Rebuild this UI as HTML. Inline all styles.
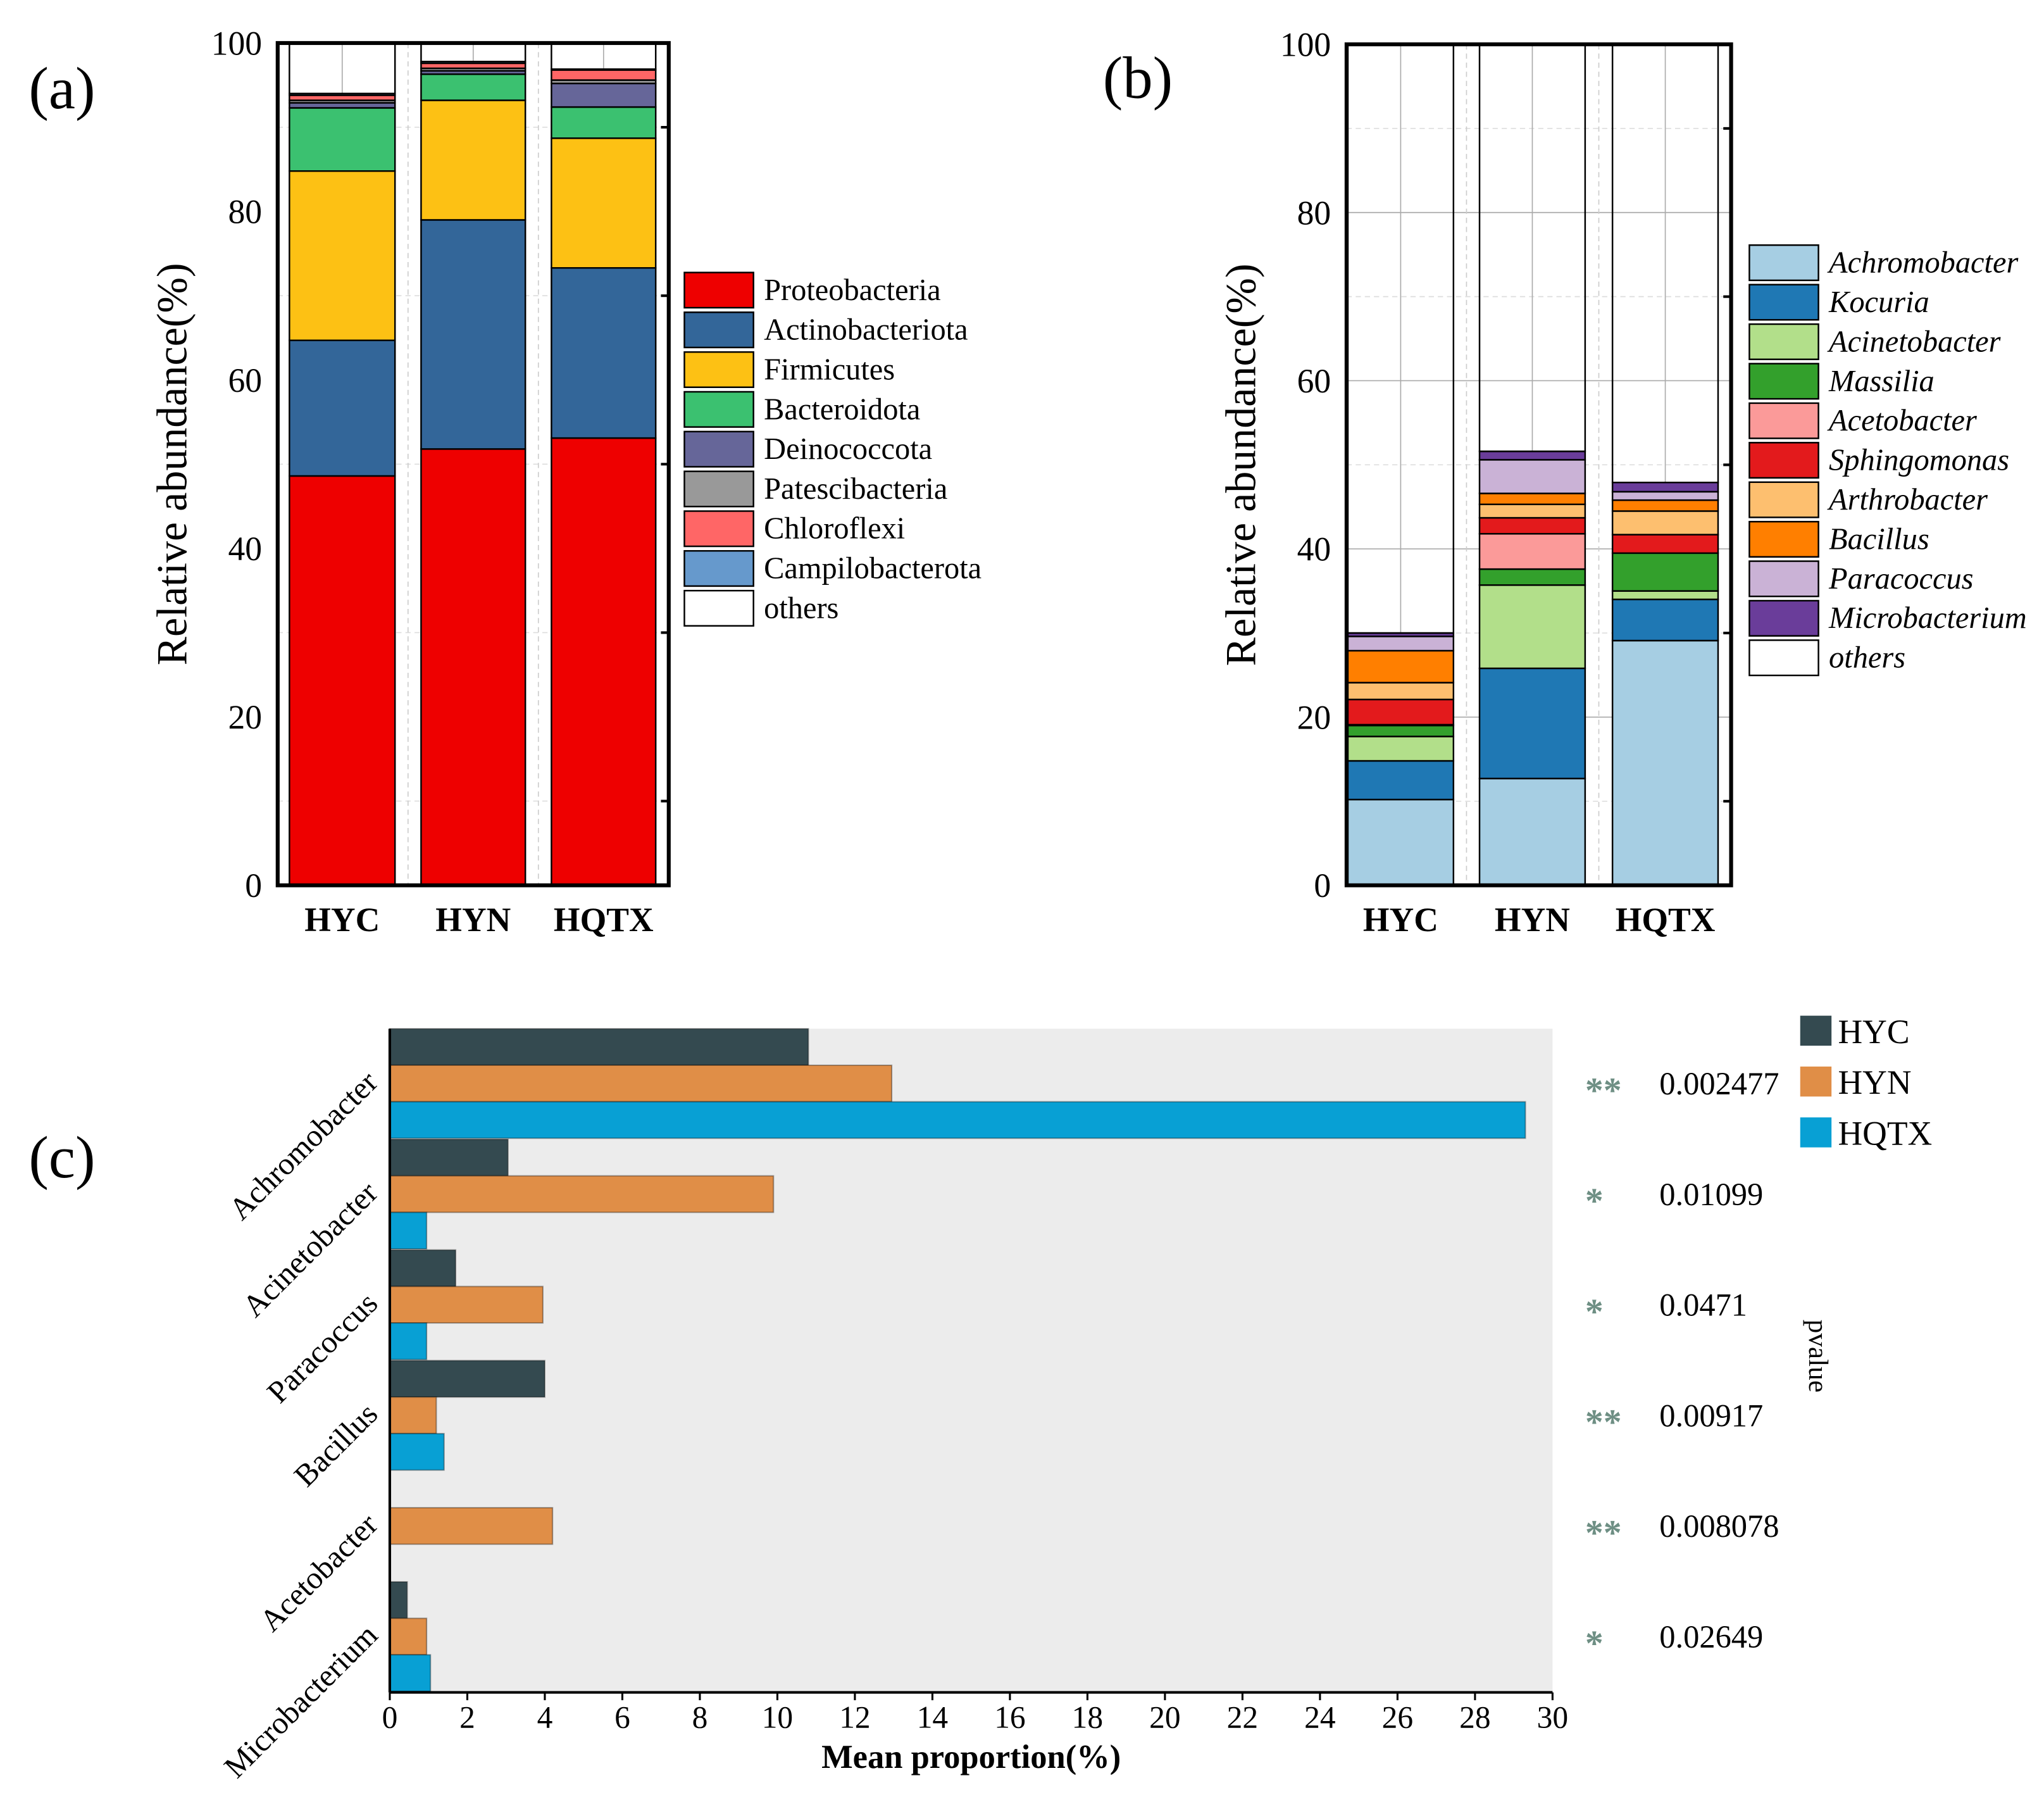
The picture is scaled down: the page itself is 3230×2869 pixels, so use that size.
<!DOCTYPE html>
<html><head><meta charset="utf-8"><style>
html,body{margin:0;padding:0;background:#fff}
svg{display:block;font-family:"Liberation Serif",serif}
</style></head><body>
<svg id="fig" xmlns="http://www.w3.org/2000/svg" width="3230" height="2869" viewBox="0 0 1568 1392.8">
<rect width="1568" height="1393" fill="#fff"/>
<text x="22" y="83" font-size="46">(a)</text>
<text x="846" y="75" font-size="46">(b)</text>
<text x="22" y="903" font-size="46">(c)</text>
<g id="pa"></g>
<g id="pb"></g>
<g id="pc"></g>
</svg>
<script>
const samples = ["HYC","HYN","HQTX"];
const phyla = ["Proteobacteria","Actinobacteriota","Firmicutes","Bacteroidota","Deinococcota","Patescibacteria","Chloroflexi","Campilobacterota","others"];
const phylaColors = ["#ee0000","#336699","#fdc114","#3bc170","#666699","#999999","#ff6666","#6699cc","#ffffff"];
const phylaHYC = [48.6,16.1,20.1,7.5,0.6,0.3,0.6,0.2];
const phylaHYN = [51.8,27.2,14.2,3.1,0.4,0.3,0.6,0.2];
const phylaHQTX = [53.1,20.2,15.4,3.7,2.8,0.4,1.2,0.1];
const genera = ["Achromobacter","Kocuria","Acinetobacter","Massilia","Acetobacter","Sphingomonas","Arthrobacter","Bacillus","Paracoccus","Microbacterium","others"];
const generaColors = ["#a6cee3","#1f78b4","#b2df8a","#33a02c","#fb9a99","#e31a1c","#fdbf6f","#ff7f00","#cab2d6","#6a3d9a","#ffffff"];
const genusHYC = [10.2,4.6,2.9,1.3,0.1,3.0,2.0,3.8,1.7,0.4];
const genusHYN = [12.7,13.1,9.9,1.9,4.2,1.9,1.6,1.3,4.0,1.0];
const genusHQTX = [29.1,4.9,1.0,4.5,0.0,2.2,2.8,1.3,1.0,1.1];
const yTicks = [0,20,40,60,80,100];
const cTaxa = ["Achromobacter","Acinetobacter","Paracoccus","Bacillus","Acetobacter","Microbacterium"];
const cHYC = [10.8,3.05,1.7,4.0,0,0.45];
const cHYN = [12.95,9.9,3.95,1.2,4.2,0.95];
const cHQTX = [29.3,0.95,0.95,1.4,0,1.05];
const cStars = ["**","*","*","**","**","*"];
const cPvals = ["0.002477","0.01099","0.0471","0.00917","0.008078","0.02649"];
const cXTicks = [0,2,4,6,8,10,12,14,16,18,20,22,24,26,28,30];
const cColors = ["#344a50","#e08e47","#08a0d4"];

const NS="http://www.w3.org/2000/svg";
function mk(parent,tag,attrs,text){const e=document.createElementNS(NS,tag);for(const k in attrs)e.setAttribute(k,attrs[k]);if(text!==undefined)e.textContent=text;parent.appendChild(e);return e;}

function stacked(g,cfg){
  const {L,R,T,B,bars,data,names,colors,italic,legX,legY,legStep,gridMajor,legFont}=cfg;
  const y=v=>B-(B-T)*v/100;
  for(let v=10;v<100;v+=20){mk(g,'line',{x1:L,x2:R,y1:y(v),y2:y(v),stroke:'#ddd','stroke-dasharray':'4,3','stroke-width':0.8});}
  if(gridMajor) for(let v=20;v<100;v+=20){mk(g,'line',{x1:L,x2:R,y1:y(v),y2:y(v),stroke:'#aaa','stroke-width':0.8});}
  bars.forEach((b,i)=>{const c=(b[0]+b[1])/2;mk(g,'line',{x1:c,x2:c,y1:T,y2:B,stroke:'#aaa','stroke-width':0.8});
    if(i<bars.length-1){const m=(b[1]+bars[i+1][0])/2;mk(g,'line',{x1:m,x2:m,y1:T,y2:B,stroke:'#ccc','stroke-dasharray':'4,3','stroke-width':0.8});}});
  data.forEach((arr,i)=>{
    let acc=0;const [x0,x1]=bars[i];
    arr.forEach((v,j)=>{
      const r=mk(g,'rect',{x:x0,y:y(acc+v),width:x1-x0,height:Math.max(0,y(acc)-y(acc+v)),fill:colors[j],stroke:'#000','stroke-width':1.2});
      
      
      acc+=v;});
    const r=mk(g,'rect',{x:x0,y:T,width:x1-x0,height:y(acc)-T,fill:'none',stroke:'#000','stroke-width':1.2});
    
    
    const t=mk(g,'text',{x:(x0+x1)/2,y:B+35,'font-size':26,'font-weight':'bold','text-anchor':'middle'},samples[i]);
    
    
  });
  mk(g,'rect',{x:L,y:T,width:R-L,height:B-T,fill:'none',stroke:'#000','stroke-width':3});
  yTicks.forEach(v=>{const t=mk(g,'text',{x:L-12,y:y(v)+9,'font-size':26,'text-anchor':'end'},v);
    
    
    mk(g,'line',{x1:R,x2:R-6,y1:y(v+10),y2:y(v+10),stroke:'#000','stroke-width':2});});
  const yl=mk(g,'text',{x:0,y:0,'font-size':33,'text-anchor':'middle',transform:`translate(${L-70},${(T+B)/2}) rotate(-90)`},'Relative abundance(%)');
  
  
  names.forEach((n,j)=>{
    const yy=legY+j*legStep;
    const r=mk(g,'rect',{x:legX,y:yy-13,width:53,height:27,fill:colors[j],stroke:'#000','stroke-width':1.2});
    
    
    const t=mk(g,'text',{x:legX+61,y:yy+8,'font-size':legFont,'font-style':italic?'italic':'normal'},n);
    
    
  });
}
stacked(document.getElementById('pa'),{L:213,R:513,T:33,B:679,bars:[[222,303],[323,403],[423,503]],data:[phylaHYC,phylaHYN,phylaHQTX],names:phyla,colors:phylaColors,italic:false,legX:525,legY:222,legStep:30.5,gridMajor:false,legFont:23.5});
stacked(document.getElementById('pb'),{L:1033,R:1328,T:34,B:679,bars:[[1034,1115],[1135,1216],[1237,1318]],data:[genusHYC,genusHYN,genusHQTX],names:genera,colors:generaColors,italic:true,legX:1342,legY:201,legStep:30.3,gridMajor:true,legFont:23.5});

(function(){
  const g=document.getElementById('pc');
  const L=299,R=1191,T=789,B=1298;
  const x=v=>L+(R-L)*v/30;
  const band=(B-T)/cTaxa.length, bh=28;
  mk(g,'rect',{x:L,y:T,width:R-L,height:B-T,fill:'#ececec'});
  const series=[cHYC,cHYN,cHQTX];
  cTaxa.forEach((tx,i)=>{
    const gy=T+i*band;
    series.forEach((s,k)=>{
      if(s[i]<=0)return;
      const r=mk(g,'rect',{x:L,y:gy+k*bh,width:x(s[i])-L,height:bh,fill:cColors[k],stroke:'rgba(0,0,0,0.35)','stroke-width':1});
      
      
    });
    const cy=gy+band/2;
    const t=mk(g,'text',{x:0,y:0,'font-size':24,'text-anchor':'end',transform:`translate(${L-8},${cy}) rotate(-45)`},tx);
    
    
    const st=mk(g,'text',{x:1216,y:cy+14,'font-size':28,fill:'#6e8f84','font-weight':'bold'},cStars[i]);
    
    
    const pv=mk(g,'text',{x:1273,y:cy+8,'font-size':24.5},cPvals[i]);
    
    
  });
  mk(g,'line',{x1:L,x2:R,y1:B,y2:B,stroke:'#000','stroke-width':2});
  mk(g,'line',{x1:L,x2:L,y1:T,y2:B,stroke:'#000','stroke-width':2});
  cXTicks.forEach(v=>{
    mk(g,'line',{x1:x(v),x2:x(v),y1:B,y2:B+6,stroke:'#000','stroke-width':1.5});
    const t=mk(g,'text',{x:x(v),y:B+27,'font-size':24,'text-anchor':'middle'},v);
    
    
  });
  const xt=mk(g,'text',{x:745,y:1356,'font-size':25.5,'font-weight':'bold','text-anchor':'middle'},'Mean proportion(%)');
  
  
  const pl=mk(g,'text',{x:0,y:0,'font-size':21,'text-anchor':'middle',transform:'translate(1388,1040) rotate(90)'},'pvalue');
  
  
  samples.forEach((s,k)=>{
    const yy=779+k*39;
    const r=mk(g,'rect',{x:1381,y:yy,width:24,height:23,fill:cColors[k]});
    
    
    const t=mk(g,'text',{x:1410,y:yy+21,'font-size':26},s);
    
    
  });
})();
</script>
</body></html>
